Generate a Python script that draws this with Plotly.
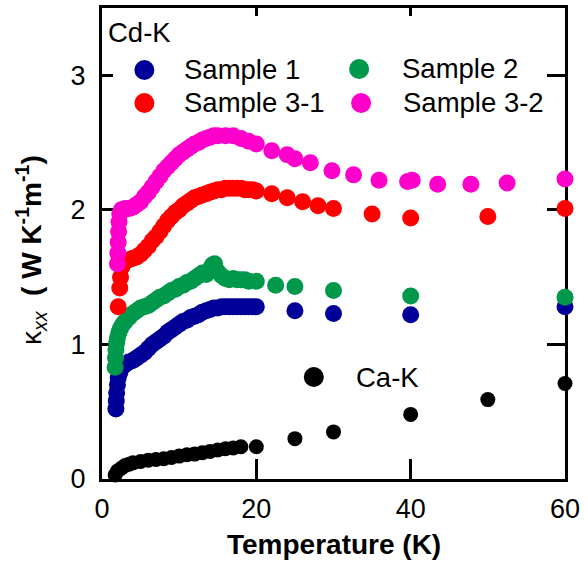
import plotly.graph_objects as go

# ---- thermal conductivity data (T in K, kappa_xx in W K^-1 m^-1) ----
t_s1 = [1.8, 1.85, 1.9, 2.0, 2.1, 2.3, 2.6, 3.0, 3.5, 4.0, 4.5, 5.0, 5.5, 6.0, 6.5, 7.0,
        7.5, 8.0, 8.5, 9.0, 9.5, 10.0, 10.5, 11.0, 11.5, 12.0, 12.5, 13.0, 13.5, 14.0,
        14.5, 15.0, 15.5, 16.0, 16.5, 17.0, 17.5, 18.0, 18.5, 19.0, 19.5, 20.0,
        25, 30, 40, 60]
k_s1 = [0.52, 0.58, 0.64, 0.70, 0.75, 0.79, 0.83, 0.85, 0.87, 0.88, 0.90, 0.92, 0.94, 0.97,
        1.00, 1.02, 1.04, 1.06, 1.09, 1.11, 1.13, 1.15, 1.17, 1.18, 1.20, 1.21, 1.22, 1.24,
        1.25, 1.26, 1.27, 1.27, 1.28, 1.28, 1.28, 1.28, 1.28, 1.28, 1.28, 1.28, 1.28, 1.28,
        1.25, 1.23, 1.22, 1.28]

t_s2 = [1.7, 1.75, 1.8, 1.9, 2.0, 2.2, 2.4, 2.7, 3.0, 3.5, 4.0, 4.5, 5.0, 5.5, 6.0, 6.5,
        7.0, 7.5, 8.0, 8.5, 9.0, 9.5, 10.0, 10.5, 11.0, 11.5, 12.0, 12.5, 13.0, 13.5, 14.0,
        14.3, 14.6, 15.0, 15.5, 16.0, 16.5, 17.0, 17.5, 18.0, 18.5, 19.0, 20.0,
        22.5, 25, 30, 40, 60]
k_s2 = [0.83, 0.90, 0.96, 1.01, 1.05, 1.09, 1.12, 1.15, 1.17, 1.20, 1.23, 1.25, 1.27, 1.28,
        1.29, 1.31, 1.33, 1.35, 1.36, 1.38, 1.40, 1.41, 1.43, 1.44, 1.46, 1.47, 1.49, 1.51,
        1.53, 1.52, 1.56, 1.59, 1.60, 1.54, 1.51, 1.49, 1.48, 1.49, 1.48, 1.48, 1.48, 1.47,
        1.47, 1.44, 1.43, 1.40, 1.36, 1.35]

t_s31 = [2.1, 2.3, 2.4, 2.6, 2.8, 3.0, 3.5, 4.0, 4.5, 5.0, 5.5, 6.0, 6.5, 7.0, 7.5, 8.0,
         8.5, 9.0, 9.5, 10.0, 10.5, 11.0, 11.5, 12.0, 12.5, 13.0, 13.5, 14.0, 14.5, 15.0,
         15.5, 16.0, 16.5, 17.0, 17.5, 18.0, 18.5, 19.0, 19.5, 20.0,
         22, 24, 26, 28, 30, 35, 40, 50, 60]
k_s31 = [1.28, 1.42, 1.50, 1.58, 1.61, 1.62, 1.63, 1.64, 1.65, 1.67, 1.70, 1.73, 1.77, 1.80,
         1.84, 1.88, 1.92, 1.95, 1.98, 2.00, 2.03, 2.05, 2.07, 2.09, 2.10, 2.11, 2.12, 2.13,
         2.14, 2.15, 2.15, 2.16, 2.16, 2.16, 2.16, 2.16, 2.15, 2.15, 2.15, 2.14,
         2.12, 2.09, 2.06, 2.03, 2.01, 1.97, 1.94, 1.95, 2.01]

t_s32 = [2.0, 2.05, 2.1, 2.15, 2.2, 2.3, 2.5, 3.0, 3.5, 4.0, 4.5, 5.0, 5.5, 6.0, 6.5, 7.0,
         7.5, 8.0, 8.5, 9.0, 9.5, 10.0, 10.5, 11.0, 11.5, 12.0, 12.5, 13.0, 13.5, 14.0,
         14.5, 15.0, 16.0, 17.0, 18.0, 19.0, 20.0,
         22, 24, 25, 27, 29.8, 32.6, 35.9, 39.6, 40.2, 43.5, 47.8, 52.5, 60]
k_s32 = [1.60, 1.68, 1.76, 1.84, 1.91, 1.97, 2.00, 2.01, 2.01, 2.02, 2.04, 2.06, 2.10, 2.13,
         2.17, 2.21, 2.25, 2.29, 2.32, 2.35, 2.38, 2.41, 2.43, 2.45, 2.47, 2.49, 2.50, 2.52,
         2.53, 2.54, 2.55, 2.55, 2.55, 2.55, 2.53, 2.51, 2.49,
         2.44, 2.41, 2.38, 2.35, 2.29, 2.26, 2.22, 2.21, 2.22, 2.19, 2.19, 2.20, 2.23]

t_ca = [1.7, 2.0, 2.5, 3.0, 3.5, 4.0, 5.0, 6.0, 7.0, 8.0, 9.0, 10.0, 11.0, 12.0, 13.0,
        14.0, 15.0, 16.0, 17.0, 18.0, 20, 25, 30, 40, 50, 60]
k_ca = [0.03, 0.06, 0.08, 0.10, 0.11, 0.12, 0.13, 0.14, 0.145, 0.15, 0.16, 0.17, 0.18,
        0.185, 0.195, 0.205, 0.215, 0.225, 0.23, 0.24, 0.24, 0.30, 0.35, 0.48, 0.59, 0.71]

x_ticks = [0, 20, 40, 60]
y_ticks = [0, 1, 2, 3]

BLUE = "#000099"
GREEN = "#00994C"
RED = "#FF0000"
MAGENTA = "#FF00CC"
FONT = "Liberation Sans, Arial, sans-serif"

series = [
    ("Ca-K", t_ca, k_ca, "black", 15),
    ("Sample 1", t_s1, k_s1, BLUE, 17),
    ("Sample 2", t_s2, k_s2, GREEN, 17),
    ("Sample 3-1", t_s31, k_s31, RED, 17),
    ("Sample 3-2", t_s32, k_s32, MAGENTA, 17),
]

fig = go.Figure()
for name, t, k, color, size in series:
    fig.add_trace(go.Scatter(
        x=t, y=k, mode="markers", name=name, showlegend=False,
        marker=dict(color=color, size=size, line=dict(width=0)),
        cliponaxis=False,
    ))

# empty trace to carry the top / right tick axes
fig.add_trace(go.Scatter(x=[], y=[], xaxis="x2", yaxis="y2", showlegend=False))

axis_common = dict(showgrid=False, zeroline=False, ticks="inside", tickwidth=3,
                   tickcolor="black", showline=True, linecolor="black", linewidth=3,
                   layer="below traces")

fig.update_layout(
    width=588, height=565,
    margin=dict(l=102, r=16, t=8, b=86),
    paper_bgcolor="white", plot_bgcolor="white",
    font=dict(family=FONT, size=27, color="black"),
    xaxis=dict(range=[0, 60], tickvals=x_ticks, ticklen=20, ticklabelstandoff=4,
               **axis_common),
    yaxis=dict(range=[0, 3.5], tickvals=y_ticks, ticklen=11, ticklabelstandoff=8,
               **axis_common),
    xaxis2=dict(range=[0, 60], overlaying="x", side="top", tickvals=[20, 40],
                ticklen=8, showticklabels=False, **axis_common),
    yaxis2=dict(range=[0, 3.5], overlaying="y", side="right", tickvals=[1, 2, 3],
                ticklen=18, showticklabels=False, **axis_common),
)

# legend block: circles and labels
def px_to_paper(px, py):
    return (px - 102) / 470.0, (479 - py) / 471.0

legend_items = [
    ("Sample 1", BLUE, 145, 70, 183),
    ("Sample 2", GREEN, 363, 69, 404),
    ("Sample 3-1", RED, 145, 103, 183),
    ("Sample 3-2", MAGENTA, 365, 103, 406),
    ("Ca-K", "black", 317, 377, 358),
]
for label, color, cx, cy, tx in legend_items:
    ax, ay = px_to_paper(cx, cy)
    fig.add_shape(type="circle", xref="paper", yref="paper",
                  xsizemode="pixel", ysizemode="pixel", xanchor=ax, yanchor=ay,
                  x0=-10, x1=10, y0=-10, y1=10,
                  fillcolor=color, line=dict(width=0))
    lx, ly = px_to_paper(tx, cy)
    fig.add_annotation(text=label, xref="paper", yref="paper", x=lx, y=ly,
                       xanchor="left", yanchor="middle", showarrow=False,
                       font=dict(size=27.5))

hx, hy = px_to_paper(106, 33)
fig.add_annotation(text="Cd-K", xref="paper", yref="paper", x=hx, y=hy,
                   xanchor="left", yanchor="middle", showarrow=False, font=dict(size=27.5))

# axis titles
fig.add_annotation(text="<b>Temperature (K)</b>", xref="paper", yref="paper",
                   x=0.5, y=(479 - 544) / 471.0, xanchor="center", yanchor="middle",
                   showarrow=False, font=dict(size=28))
fig.add_annotation(text="κ<sub><i>xx</i></sub>  <b>( W K<sup>-1</sup>m<sup>-1</sup>)</b>",
                   xref="paper", yref="paper", x=(30 - 102) / 470.0,
                   y=(479 - 250) / 471.0, xanchor="center", yanchor="middle",
                   textangle=-90, showarrow=False, font=dict(size=28))

fig.write_html("out.html")
